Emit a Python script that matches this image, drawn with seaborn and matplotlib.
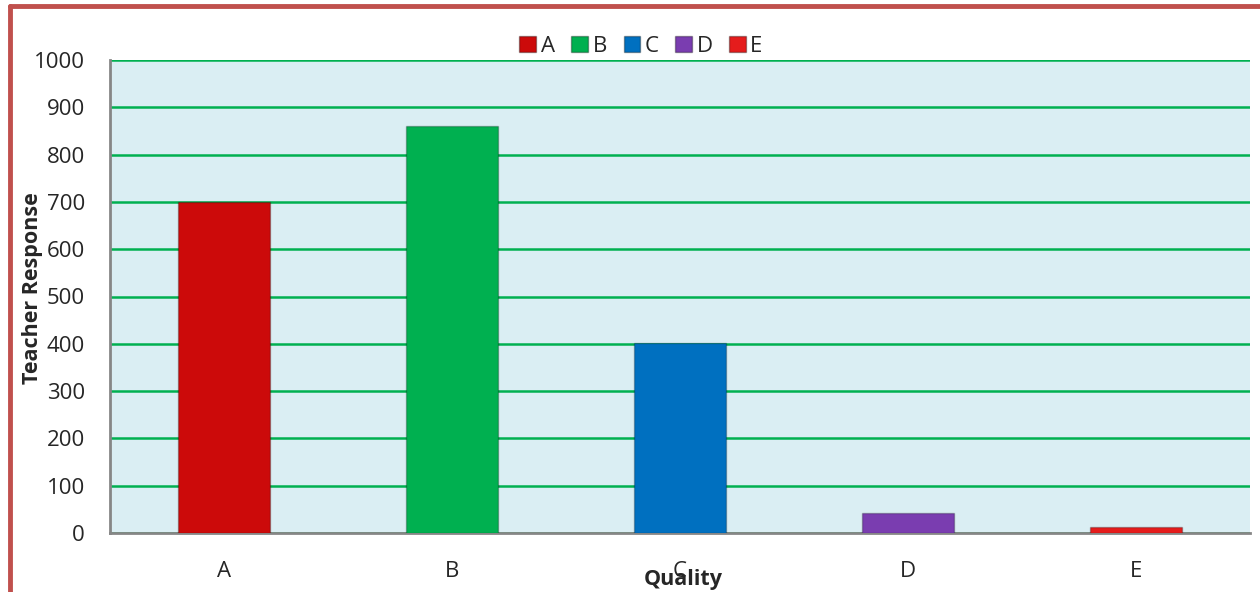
import matplotlib

matplotlib.use("Agg")

import matplotlib.pyplot as plt
import seaborn as sns
from matplotlib.lines import Line2D
from matplotlib.patches import Patch

qualities = ["A", "B", "C", "D", "E"]
responses = [700, 860, 401, 42, 13]
bar_colors = ["#CC0A0A", "#00B050", "#0070C0", "#7A3DB0", "#E51C1C"]
y_ticks = [0, 100, 200, 300, 400, 500, 600, 700, 800, 900, 1000]

W, H = 1260, 592


def main():
    sns.set_style("white")
    plt.rcParams["font.family"] = ["Open Sans", "DejaVu Sans"]

    fig = plt.figure(figsize=(W / 100, H / 100), dpi=100)
    ax = fig.add_axes([110 / W, 1 - 533 / H, 1140 / W, 473 / H])
    ax.set_facecolor("#DAEEF3")

    sns.barplot(
        x=qualities,
        y=responses,
        hue=qualities,
        palette=bar_colors,
        width=0.4,
        saturation=1,
        legend=False,
        edgecolor="#00000040",
        linewidth=1,
        ax=ax,
        zorder=3,
    )

    ax.set_ylim(0, 1000)
    ax.set_xlim(-0.5, len(qualities) - 0.5)
    ax.set_yticks(y_ticks)
    ax.set_yticklabels([str(v) for v in y_ticks], fontsize=16)
    ax.yaxis.grid(True, color="#00B050", linewidth=1.8, zorder=1)
    ax.set_axisbelow(True)

    # boundaries get the tick marks, the category centres get the labels
    ax.set_xticks([i - 0.5 for i in range(len(qualities) + 1)])
    ax.set_xticklabels([])
    ax.set_xticks(range(len(qualities)), minor=True)
    ax.set_xticklabels(qualities, minor=True, fontsize=16)
    ax.tick_params(axis="x", which="major", length=6, width=1.5, color="#868686", direction="out")
    ax.tick_params(axis="x", which="minor", length=0, pad=20)
    ax.tick_params(axis="y", length=6, width=1.5, color="#868686", direction="out", pad=12)
    ax.set_xlabel("")
    ax.set_ylabel("")

    for side in ["top", "right"]:
        ax.spines[side].set_visible(False)
    for side in ["left", "bottom"]:
        ax.spines[side].set_color("#868686")
        ax.spines[side].set_linewidth(2)

    handles = [Patch(facecolor=c, edgecolor="#00000055") for c in bar_colors]
    fig.legend(
        handles,
        qualities,
        loc="center",
        bbox_to_anchor=(641 / W, 1 - 46 / H),
        ncol=5,
        frameon=False,
        fontsize=16,
        handlelength=0.75,
        handleheight=0.75,
        handletextpad=0.2,
        columnspacing=0.75,
    )

    fig.text(33 / W, 1 - 288 / H, "Teacher Response", rotation=90, fontsize=15.5,
             fontweight="bold", ha="center", va="center")
    fig.text(683 / W, 1 - 579 / H, "Quality", fontsize=15.5, fontweight="bold",
             ha="center", va="center")

    # red frame of the chart object (left and top edges show)
    fig.add_artist(Line2D([9.5 / W, 9.5 / W], [0, 1 - 5.5 / H], color="#C0504D", linewidth=3.5))
    fig.add_artist(Line2D([9.5 / W, 1], [1 - 5.5 / H, 1 - 5.5 / H], color="#C0504D", linewidth=3.5))

    fig.savefig("out.png", dpi=100)
    plt.close(fig)


if __name__ == "__main__":
    main()
